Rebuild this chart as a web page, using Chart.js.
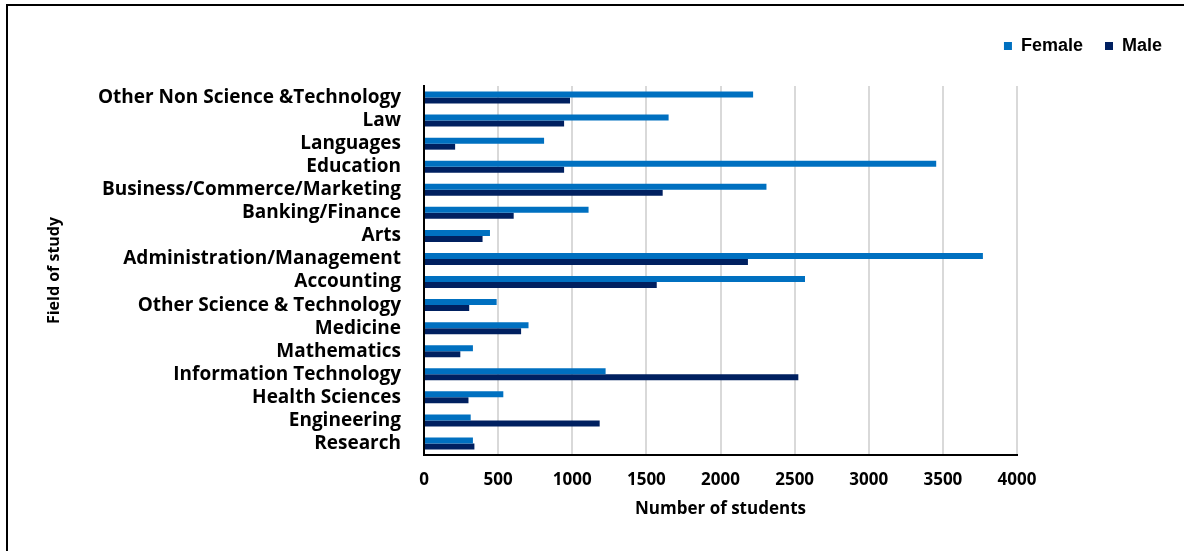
<!DOCTYPE html>
<html>
<head>
<meta charset="utf-8">
<title>Students by field of study</title>
<script src="https://cdn.jsdelivr.net/npm/chart.js@4/dist/chart.umd.min.js"></script>
<style>
  body {
    margin: 0;
    background: #fff;
  }
  .wrap {
    position: relative;
    width: 1184px;
    height: 551px;
  }
  /* thin frame round the chart (left and top edges only) */
  .frame {
    position: absolute;
    left: 6px;
    top: 4px;
    right: 0;
    bottom: 0;
    border-left: 2px solid #000;
    border-top: 2px solid #000;
    pointer-events: none;
  }
</style>
</head>
<body>
<div class="wrap">
  <canvas id="fieldChart"></canvas>
  <div class="frame"></div>
</div>

<script>
// fields, listed top to bottom
const fields = [
  "Other Non Science &Technology",
  "Law",
  "Languages",
  "Education",
  "Business/Commerce/Marketing",
  "Banking/Finance",
  "Arts",
  "Administration/Management",
  "Accounting",
  "Other Science & Technology",
  "Medicine",
  "Mathematics",
  "Information Technology",
  "Health Sciences",
  "Engineering",
  "Research",
];

const femaleData = [2220, 1650, 810, 3455, 2310, 1110, 445, 3770, 2570, 490, 705, 330, 1225, 535, 315, 330];
const maleData = [985, 945, 210, 945, 1610, 605, 395, 2185, 1570, 305, 655, 245, 2525, 300, 1185, 340];

const seriesLabels = ["Female", "Male"];
const seriesColors = ["#0070C0", "#002060"];

const xTicksMax = 4000;
const xTicksStep = 500;

const labelFont = { family: "'Open Sans', sans-serif", weight: "bold", size: 17 };

// push the plot down a bit below the legend
const legendMargin = {
  id: "legendMargin",
  beforeInit(chart) {
    const fit = chart.legend.fit;
    chart.legend.fit = function () {
      fit.bind(chart.legend)();
      this.height += 21;
    };
  },
};

const chartOptions = {
  indexAxis: "y",
  responsive: true,
  maintainAspectRatio: false,
  animation: false,
  layout: {
    padding: { top: 15, left: 41, right: 0, bottom: 32 },
  },
  datasets: {
    bar: {
      categoryPercentage: 0.52,
      barPercentage: 1,
    },
  },
  scales: {
    x: {
      min: 0,
      max: xTicksMax,
      border: { display: true, color: "#000", width: 2 },
      grid: { color: "#d9d9d9", lineWidth: 2, drawTicks: false },
      ticks: {
        stepSize: xTicksStep,
        padding: 15,
        maxRotation: 0,
        color: "#000",
        font: labelFont,
        callback: (value) => value, // no thousands separator
      },
      title: {
        display: true,
        text: "Number of students",
        color: "#000",
        font: labelFont,
        padding: { top: 7, bottom: 0 },
      },
      afterFit(scale) {
        scale.height = 64;
      },
    },
    y: {
      border: { display: true, color: "#000", width: 2 },
      grid: { display: false, drawTicks: false },
      ticks: {
        autoSkip: false,
        padding: 23,
        color: "#000",
        font: { family: "'Open Sans', sans-serif", weight: "bold", size: 19 },
      },
      title: {
        display: true,
        text: "Field of study",
        color: "#000",
        font: { family: "'Open Sans', sans-serif", weight: "bold", size: 16 },
        padding: { top: 4, bottom: 4 },
      },
      afterFit(scale) {
        scale.width = 383;
      },
    },
    // empty axis on the right, keeps the plot narrower than the legend row
    yRight: {
      position: "right",
      display: true,
      border: { display: false },
      grid: { display: false },
      ticks: { display: false },
      afterFit(scale) {
        scale.width = 167;
      },
    },
  },
  plugins: {
    legend: {
      position: "top",
      align: "end",
      labels: {
        boxWidth: 8,
        boxHeight: 8,
        padding: 22,
        color: "#000",
        font: { family: "'Liberation Sans', Arial, sans-serif", weight: "bold", size: 18 },
      },
    },
    tooltip: { enabled: false },
  },
};

function fieldChartDraw() {
  const ctx = document.querySelector("#fieldChart");
  new Chart(ctx, {
    type: "bar",
    data: {
      labels: fields,
      datasets: [
        {
          label: seriesLabels[0],
          data: femaleData,
          backgroundColor: seriesColors[0],
        },
        {
          label: seriesLabels[1],
          data: maleData,
          backgroundColor: seriesColors[1],
        },
      ],
    },
    options: chartOptions,
    plugins: [legendMargin],
  });
}

fieldChartDraw();
</script>
</body>
</html>
